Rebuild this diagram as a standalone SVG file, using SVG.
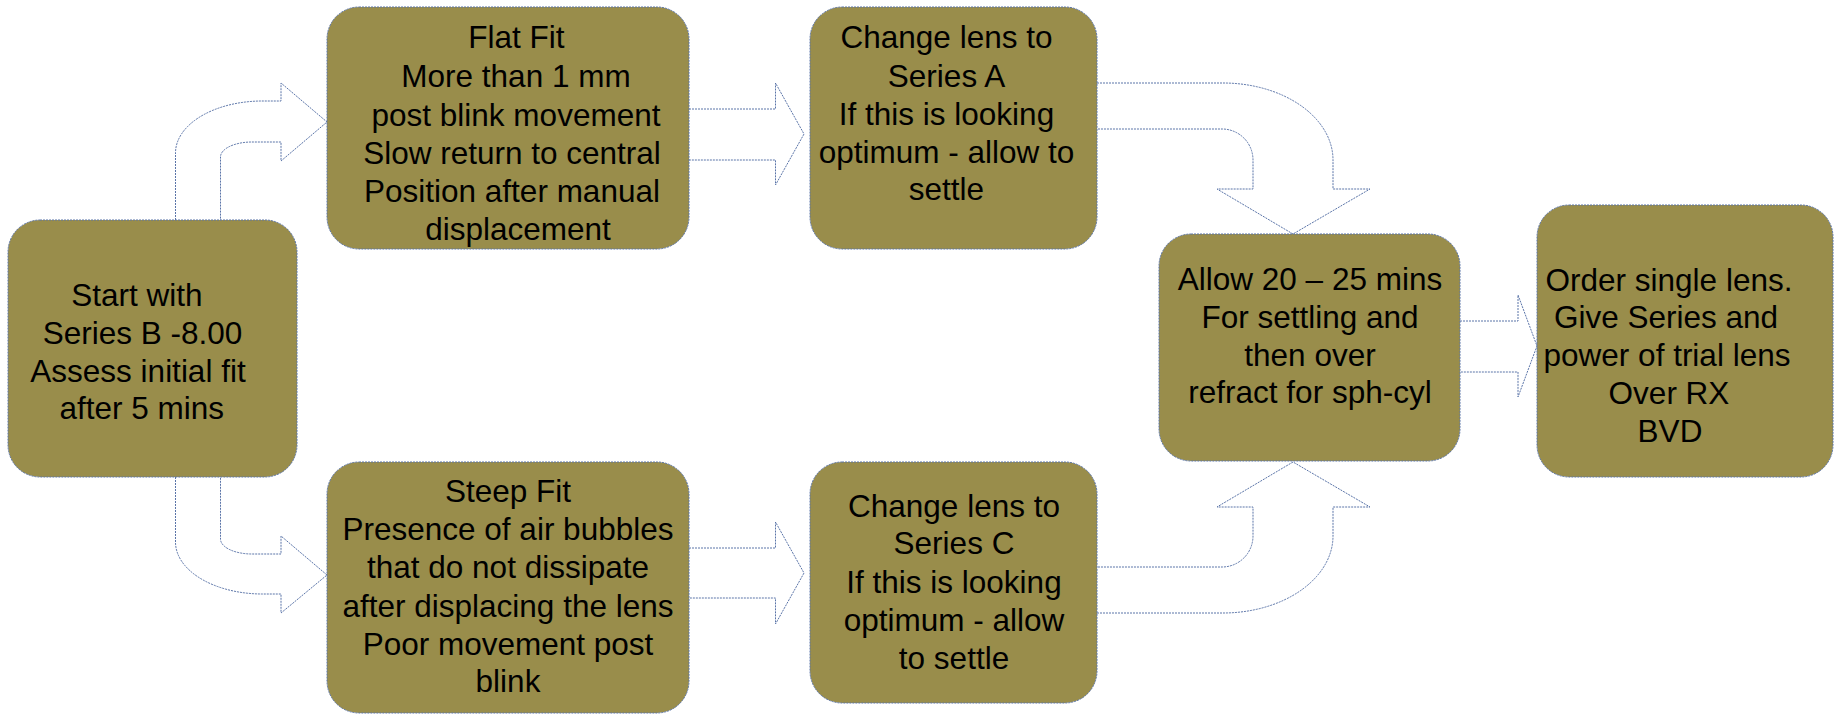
<svg xmlns="http://www.w3.org/2000/svg" width="1835" height="715" viewBox="0 0 1835 715">
<style>
.box{fill:#998d4b;stroke:#5a74a8;stroke-width:1;stroke-dasharray:2 1}
.arr{fill:#ffffff;stroke:#5a74a8;stroke-width:1;stroke-dasharray:2 1;stroke-linejoin:miter}
text{font-family:"Liberation Sans",Arial,sans-serif;font-size:31.5px;fill:#000;text-anchor:middle}
</style>
<rect width="1835" height="715" fill="#ffffff"/>
<g id="connectors">
<path class="arr" d="M175.5,220 V153 A87,52 0 0 1 262,101 H281 V83 L327,122 L281,161 V142 H252 A31.5,15 0 0 0 220.5,157 V220"/>
<path class="arr" d="M175.5,477 V542 A87,52 0 0 0 262,594 H281 V613 L327,575 L281,536 V554 H252 A31.5,15 0 0 1 220.5,539 V477"/>
<path class="arr" d="M689,109 H775.5 V83 L804,134 L775.5,185 V160 H689"/>
<path class="arr" d="M689,548 H775.5 V522 L804,573 L775.5,624 V598 H689"/>
<path class="arr" d="M1097,83 H1223 A110,77 0 0 1 1333,160 V189 H1370 L1293,234 L1217,189 H1253 V160 A31,31 0 0 0 1222,129 H1097"/>
<path class="arr" d="M1097,613 H1223 A110,77 0 0 0 1333,536 V507 H1370 L1293,462 L1217,507 H1253 V536 A31,31 0 0 1 1222,567 H1097"/>
<path class="arr" d="M1460,321 H1518 V295 L1537,346 L1518,397 V372 H1460"/>
</g>
<g id="start">
<rect class="box" x="8" y="220" width="289" height="257" rx="32"/>
<text x="137" y="305.7">Start with</text>
<text x="142.5" y="344">Series B -8.00</text>
<text x="138" y="381.7">Assess initial fit</text>
<text x="141.7" y="419">after 5 mins</text>
</g>
<g id="flat-fit">
<rect class="box" x="327" y="7" width="362" height="242" rx="32"/>
<text x="516.5" y="48.3">Flat Fit</text>
<text x="516" y="87">More than 1 mm</text>
<text x="516" y="125.5">post blink movement</text>
<text x="512" y="163.5">Slow return to central</text>
<text x="512" y="201.7">Position after manual</text>
<text x="518" y="240">displacement</text>
</g>
<g id="steep-fit">
<rect class="box" x="327" y="462" width="362" height="251" rx="32"/>
<text x="508" y="501.7">Steep Fit</text>
<text x="508" y="540">Presence of air bubbles</text>
<text x="508" y="578.3">that do not dissipate</text>
<text x="508" y="616.7">after displacing the lens</text>
<text x="508" y="655">Poor movement post</text>
<text x="508" y="692.3">blink</text>
</g>
<g id="series-a">
<rect class="box" x="810" y="7" width="287" height="242" rx="32"/>
<text x="946.5" y="48.3">Change lens to</text>
<text x="946.5" y="86.7">Series A</text>
<text x="946.5" y="125">If this is looking</text>
<text x="946.5" y="163.3">optimum - allow to</text>
<text x="946.5" y="200">settle</text>
</g>
<g id="series-c">
<rect class="box" x="810" y="462" width="287" height="241" rx="32"/>
<text x="954" y="516.7">Change lens to</text>
<text x="954" y="554.3">Series C</text>
<text x="954" y="592.7">If this is looking</text>
<text x="954" y="630.7">optimum - allow</text>
<text x="954" y="669.3">to settle</text>
</g>
<g id="allow">
<rect class="box" x="1159" y="234" width="301" height="227" rx="32"/>
<text x="1310" y="290">Allow 20 – 25 mins</text>
<text x="1310" y="327.7">For settling and</text>
<text x="1310" y="366">then over</text>
<text x="1310" y="403.3">refract for sph-cyl</text>
</g>
<g id="order">
<rect class="box" x="1537" y="205" width="296" height="272" rx="32"/>
<text x="1669" y="290.7">Order single lens.</text>
<text x="1666" y="328">Give Series and</text>
<text x="1667" y="366">power of trial lens</text>
<text x="1669" y="404">Over RX</text>
<text x="1670" y="441.7">BVD</text>
</g>
</svg>
